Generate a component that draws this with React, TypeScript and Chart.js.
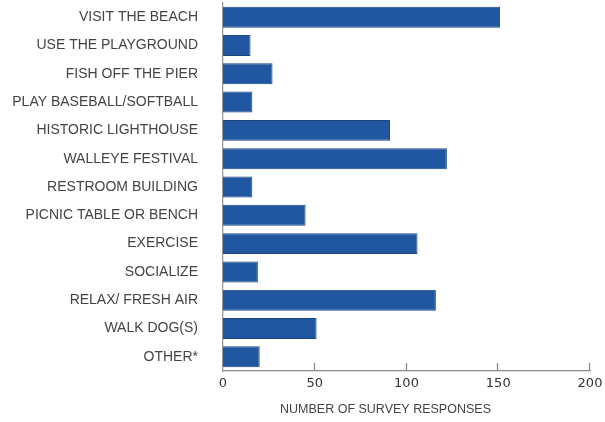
import React, { useEffect, useRef } from "react";
import { Chart, registerables } from "chart.js";

Chart.register(...registerables);

const categories = [
  "VISIT THE BEACH",
  "USE THE PLAYGROUND",
  "FISH OFF THE PIER",
  "PLAY BASEBALL/SOFTBALL",
  "HISTORIC LIGHTHOUSE",
  "WALLEYE FESTIVAL",
  "RESTROOM BUILDING",
  "PICNIC TABLE OR BENCH",
  "EXERCISE",
  "SOCIALIZE",
  "RELAX/ FRESH AIR",
  "WALK DOG(S)",
  "OTHER*",
];

const responses = [151, 15, 27, 16, 91, 122, 16, 45, 106, 19, 116, 51, 20];

const xTicks = [0, 50, 100, 150, 200];
const axisTitle = "NUMBER OF SURVEY RESPONSES";

export default function App() {
  const ref = useRef<HTMLCanvasElement | null>(null);

  useEffect(() => {
    document.body.style.margin = "0";
    const canvas = ref.current;
    if (!canvas) return;

    const upTicks = {
      id: "upTicks",
      afterDraw(chart: any) {
        const ctx = chart.ctx;
        const xs = chart.scales.x;
        const bottom = chart.chartArea.bottom;
        ctx.save();
        ctx.strokeStyle = "#8a8a8a";
        ctx.lineWidth = 1.3;
        xTicks.forEach((v) => {
          if (v === 0) return;
          const px = Math.round(xs.getPixelForValue(v)) - 0.5;
          ctx.beginPath();
          ctx.moveTo(px, bottom);
          ctx.lineTo(px, bottom - 8);
          ctx.stroke();
        });
        ctx.fillStyle = "#444";
        ctx.font = "12.5px 'Liberation Sans', Arial, sans-serif";
        ctx.textAlign = "center";
        ctx.textBaseline = "middle";
        const cx = (xs.left + xs.right) / 2 - 21;
        ctx.fillText(axisTitle, cx, bottom + 39);
        ctx.restore();
      },
    };

    const chart = new Chart(canvas, {
      type: "bar",
      data: {
        labels: categories,
        datasets: [
          {
            data: responses,
            backgroundColor: "#2156a0",
            borderColor: "#1a457f",
            borderWidth: 1,
            barPercentage: 0.74,
            categoryPercentage: 1,
          },
        ],
      },
      options: {
        indexAxis: "y",
        animation: false,
        responsive: false,
        maintainAspectRatio: false,
        layout: { padding: { top: 3, right: 0, left: 0, bottom: 0 } },
        plugins: {
          legend: { display: false },
          tooltip: { enabled: false },
        },
        scales: {
          x: {
            min: 0,
            max: 200,
            afterBuildTicks: (scale: any) => {
              scale.ticks = xTicks.map((v) => ({ value: v }));
            },
            afterFit: (scale: any) => {
              scale.height = 51;
              scale.paddingLeft = 0;
              scale.paddingRight = 15;
            },
            grid: { display: false, drawTicks: false },
            border: { display: true, color: "#8a8a8a", width: 1.3 },
            ticks: {
              padding: 5,
              color: "#333",
              font: { family: "'DejaVu Sans', sans-serif", size: 13 },
              maxRotation: 0,
            },
          },
          y: {
            afterFit: (scale: any) => {
              scale.width = 223;
              scale.paddingTop = 0;
              scale.paddingBottom = 0;
            },
            grid: { display: false, drawTicks: false },
            border: { display: true, color: "#9a9a9a", width: 1.3 },
            ticks: {
              padding: 25,
              color: "#444",
              font: { family: "'Liberation Sans', Arial, sans-serif", size: 14 },
              autoSkip: false,
            },
          },
        },
      },
      plugins: [upTicks],
    });

    return () => chart.destroy();
  }, []);

  return (
    <div style={{ width: 605, height: 422, background: "#fff" }}>
      <canvas ref={ref} width={605} height={422} style={{ display: "block" }} />
    </div>
  );
}
